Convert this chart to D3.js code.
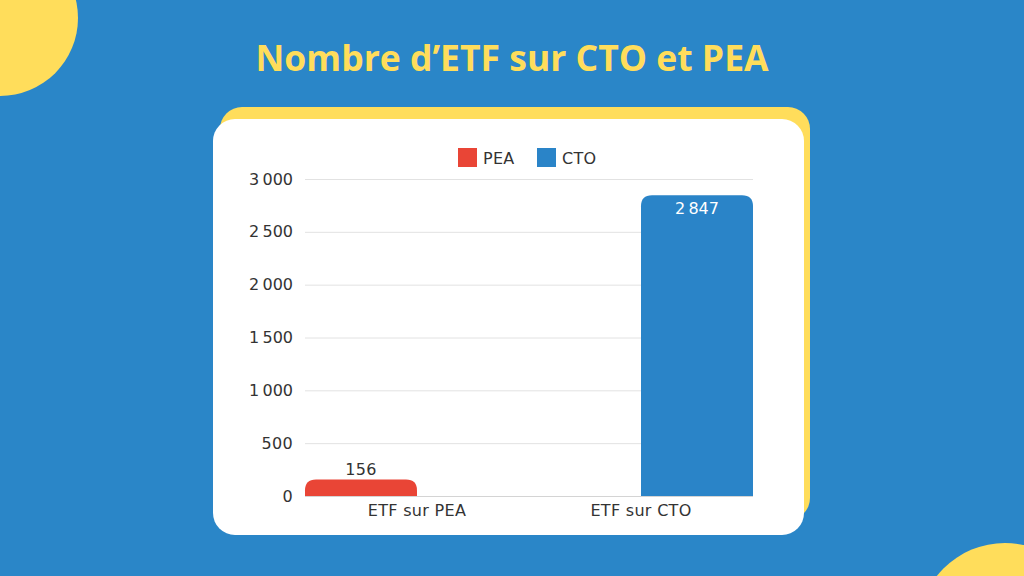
<!DOCTYPE html>
<html>
<head>
<meta charset="utf-8">
<script src="https://cdn.jsdelivr.net/npm/d3@7"></script>
<style>
  body { margin: 0; background: #2a86c8; }
  svg { display: block; }
  .lbl { font-family: 'DejaVu Sans', sans-serif; font-size: 16px; letter-spacing: 0.3px; }
</style>
</head>
<body>
<div class="graph"></div>
<script>
// Chart data
const categories = ["ETF sur PEA", "ETF sur CTO"];
const seriesNames = ["PEA", "CTO"];
const peaValues = [156, null];
const ctoValues = [null, 2847];
const yTicks = [0, 500, 1000, 1500, 2000, 2500, 3000];
const title = "Nombre d\u2019ETF sur CTO et PEA";

const colors = { PEA: "#e94536", CTO: "#2a84c8" };
const blue = "#2a86c8";
const yellow = "#ffdd5b";

const dimensions = {
    width: 1024,
    height: 576,
    margins: { top: 179, right: 271, bottom: 80, left: 305 }
};
dimensions.boundedWidth = dimensions.width - dimensions.margins.left - dimensions.margins.right;
dimensions.boundedHeight = dimensions.height - dimensions.margins.top - dimensions.margins.bottom;

const frLocale = d3.formatLocale({ decimal: ",", thousands: "\u202f", grouping: [3], currency: ["", " €"] });
const fmt = frLocale.format(",d");

const wrapper = d3.select(".graph")
    .append("svg")
        .attr("width", dimensions.width)
        .attr("height", dimensions.height);

// background + decorative blobs
wrapper.append("rect")
    .attr("width", dimensions.width)
    .attr("height", dimensions.height)
    .attr("fill", blue);
wrapper.append("circle").attr("cx", 0).attr("cy", 18).attr("r", 78).attr("fill", yellow);
wrapper.append("circle").attr("cx", 1005).attr("cy", 630).attr("r", 87).attr("fill", yellow);

// title
wrapper.append("text")
    .attr("x", 512)
    .attr("y", 71)
    .attr("text-anchor", "middle")
    .attr("fill", yellow)
    .style("font-family", "'Open Sans', sans-serif")
    .style("font-weight", 700)
    .style("font-size", "35.5px")
    .text(title);

// cards
wrapper.append("rect")
    .attr("x", 220).attr("y", 107)
    .attr("width", 590).attr("height", 413)
    .attr("rx", 22)
    .attr("fill", yellow);
wrapper.append("rect")
    .attr("x", 213).attr("y", 119)
    .attr("width", 591).attr("height", 416)
    .attr("rx", 22)
    .attr("fill", "white");

const bounds = wrapper.append("g")
    .attr("transform", `translate(${dimensions.margins.left},${dimensions.margins.top})`);

// scales
const x0 = d3.scaleBand()
    .domain(categories)
    .range([0, dimensions.boundedWidth]);
const x1 = d3.scaleBand()
    .domain(seriesNames)
    .range([0, x0.bandwidth()]);
const yScale = d3.scaleLinear()
    .domain([0, 3000])
    .range([dimensions.boundedHeight, 0]);

// gridlines
bounds.append("g")
    .selectAll("line")
    .data(yTicks)
    .join("line")
        .attr("x1", 0)
        .attr("x2", dimensions.boundedWidth)
        .attr("y1", d => yScale(d) + 0.5)
        .attr("y2", d => yScale(d) + 0.5)
        .attr("stroke", d => d === 0 ? "#d4d4d4" : "#e2e2e2")
        .attr("stroke-width", 1);

// y axis
const yAxis = bounds.append("g")
    .call(d3.axisLeft(yScale).tickValues(yTicks).tickFormat(fmt).tickSize(0).tickPadding(12));
yAxis.select(".domain").remove();
yAxis.selectAll("text")
    .attr("class", "lbl")
    .attr("fill", "#333");

// x axis
const xAxis = bounds.append("g")
    .attr("transform", `translate(0,${dimensions.boundedHeight})`)
    .call(d3.axisBottom(x0).tickSize(0).tickPadding(9));
xAxis.select(".domain").remove();
xAxis.selectAll("text")
    .attr("class", "lbl")
    .attr("fill", "#333");

// bars: one rounded-top path per value
const barData = [];
categories.forEach((c, i) => {
    if (peaValues[i] != null) barData.push({ cat: c, key: "PEA", value: peaValues[i] });
    if (ctoValues[i] != null) barData.push({ cat: c, key: "CTO", value: ctoValues[i] });
});

function topRoundedBar(x, y, w, h, r) {
    r = Math.min(r, h, w / 2);
    return `M${x},${y + h}V${y + r}Q${x},${y} ${x + r},${y}H${x + w - r}Q${x + w},${y} ${x + w},${y + r}V${y + h}Z`;
}

const g = bounds.append("g")
    .selectAll("g")
    .data(barData)
    .join("g");

g.append("path")
    .attr("d", d => {
        const xPos = x0(d.cat) + x1(d.key);
        const yPos = yScale(d.value);
        return topRoundedBar(xPos, yPos, x1.bandwidth(), dimensions.boundedHeight - yPos, 11);
    })
    .attr("fill", d => colors[d.key]);

// value labels: outside for short bar, inside for tall bar
g.append("text")
    .attr("class", "lbl")
    .attr("x", d => x0(d.cat) + x1(d.key) + x1.bandwidth() / 2)
    .attr("y", d => {
        const h = dimensions.boundedHeight - yScale(d.value);
        return h < 40 ? yScale(d.value) - 5 : yScale(d.value) + 19;
    })
    .attr("text-anchor", "middle")
    .attr("fill", d => (dimensions.boundedHeight - yScale(d.value)) < 40 ? "#333" : "white")
    .text(d => fmt(d.value));

// legend
const legendX = [458, 537];
const legend = wrapper.append("g")
    .selectAll("g")
    .data(seriesNames)
    .join("g")
        .attr("transform", (d, i) => `translate(${legendX[i]},148)`);
legend.append("rect")
    .attr("width", 19)
    .attr("height", 19)
    .attr("fill", d => colors[d]);
legend.append("text")
    .attr("class", "lbl")
    .attr("x", 25)
    .attr("y", 16)
    .attr("fill", "#333")
    .text(d => d);
</script>
</body>
</html>
